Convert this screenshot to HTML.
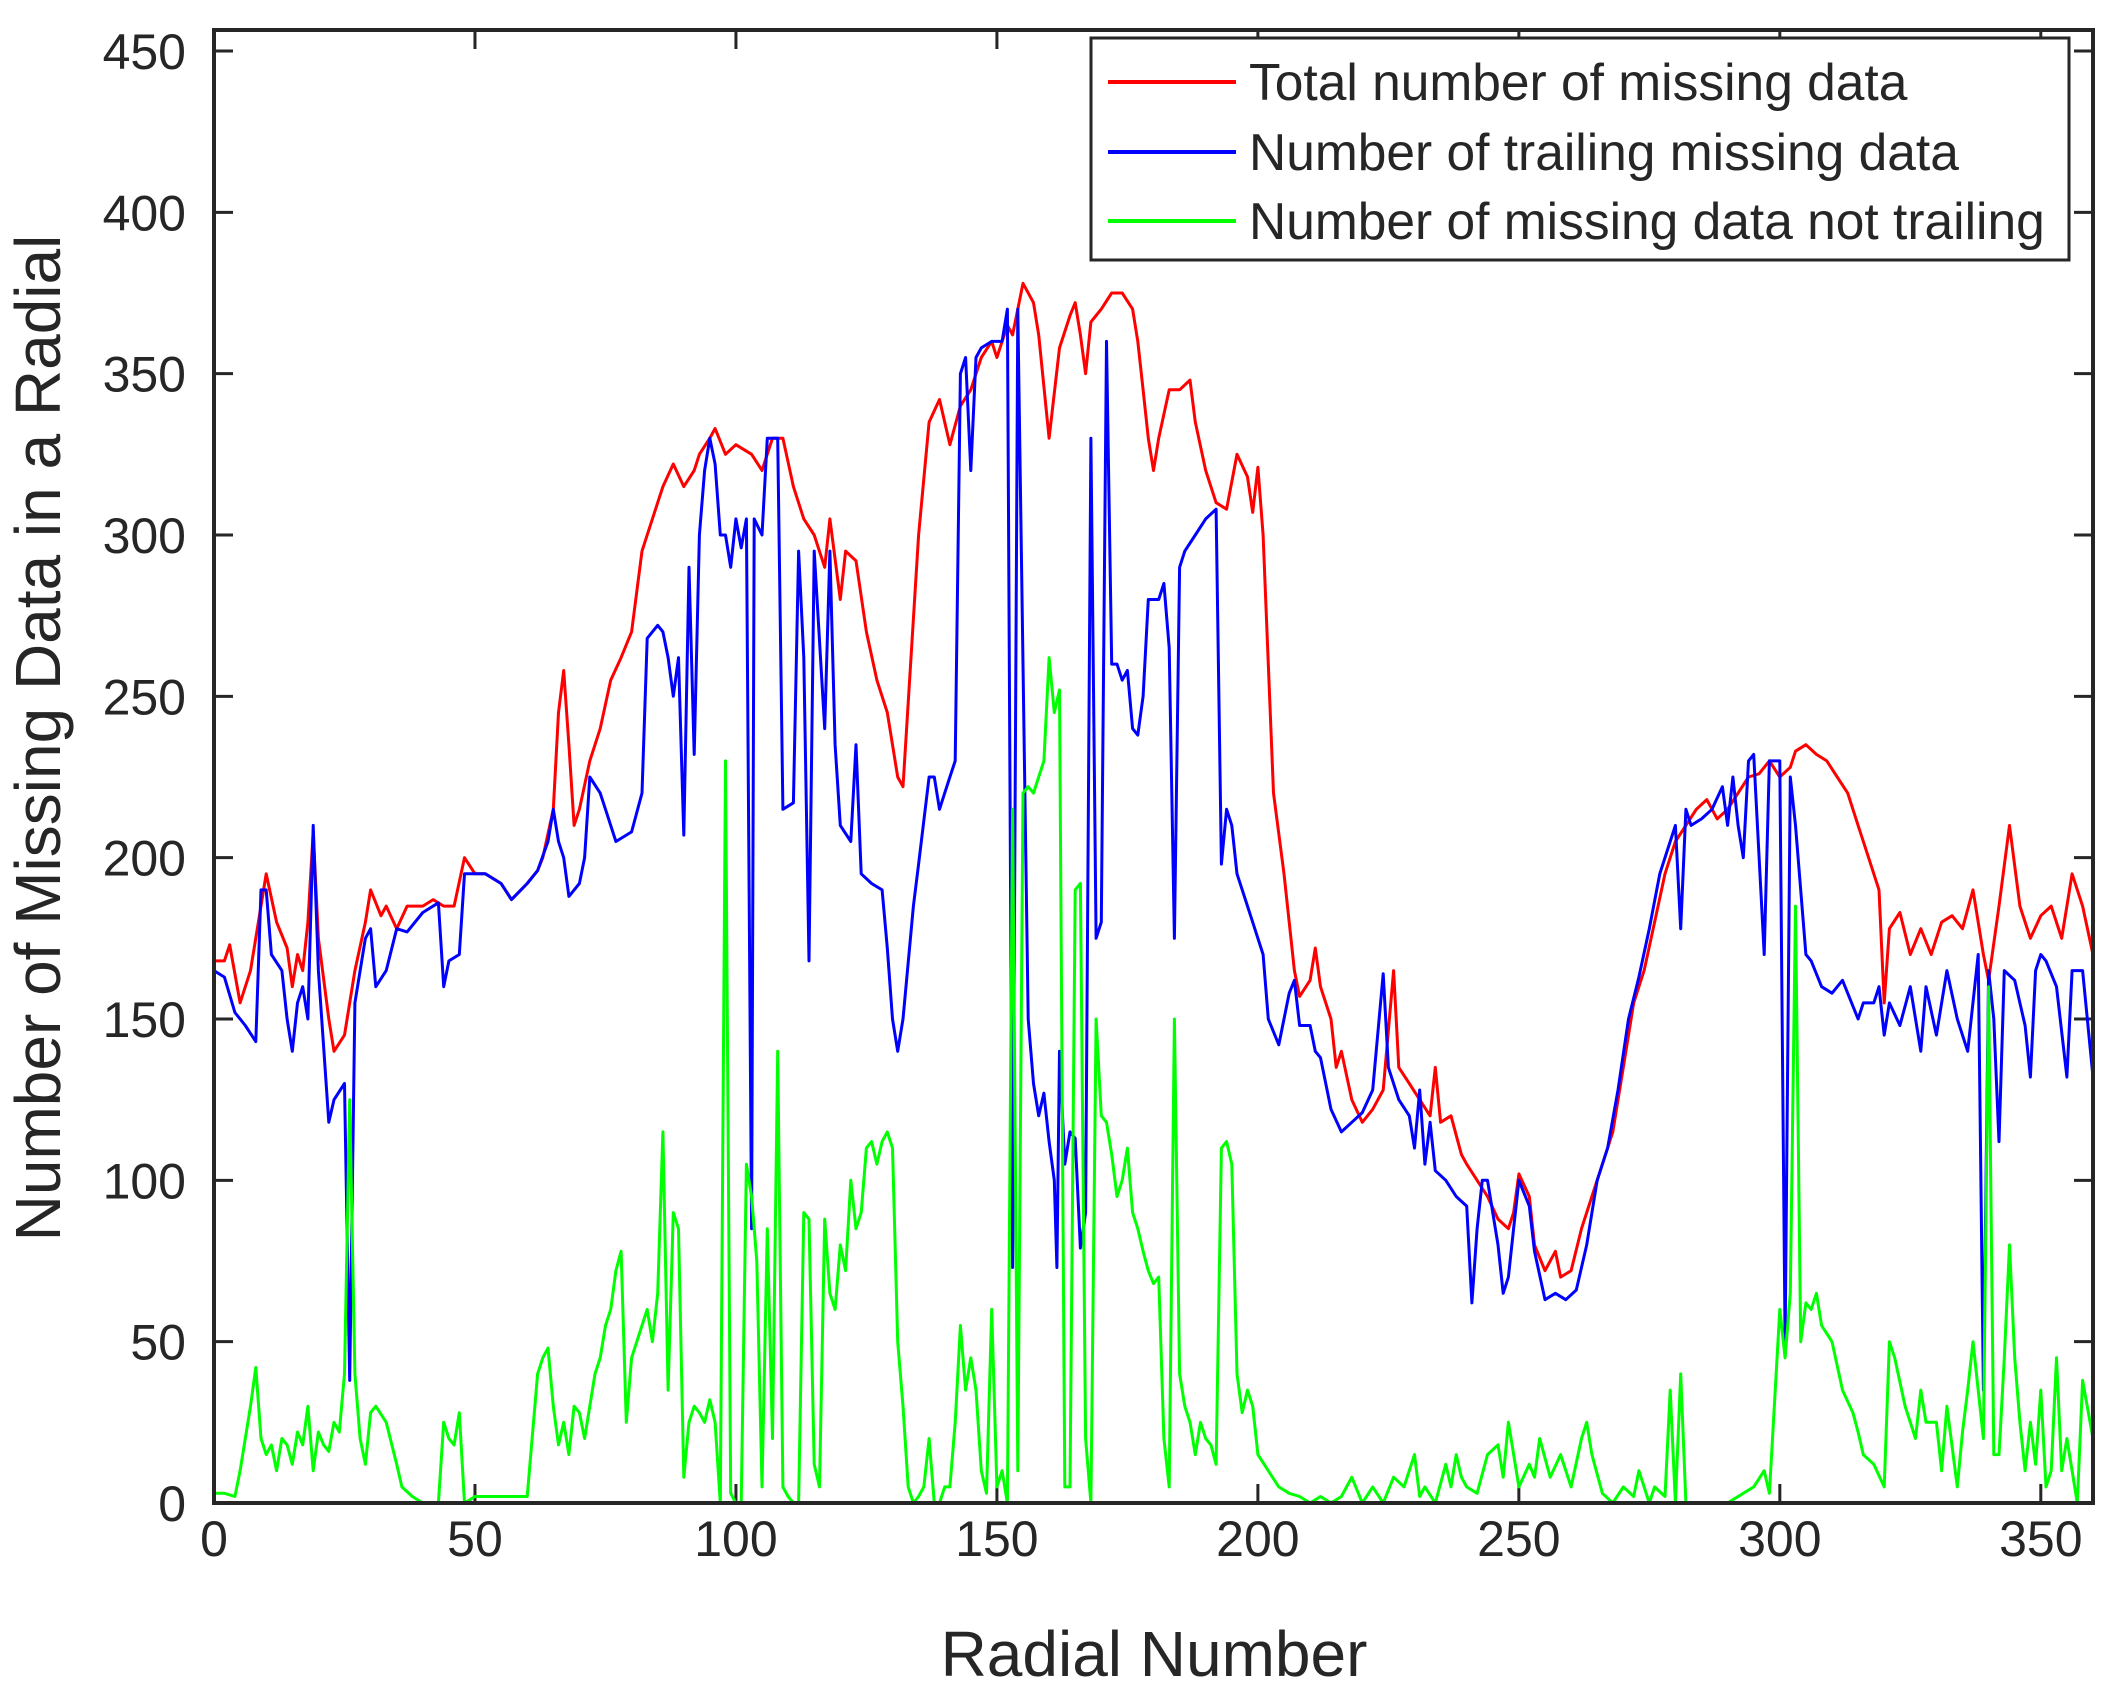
<!DOCTYPE html>
<html><head><meta charset="utf-8"><style>
html,body{margin:0;padding:0;background:#fff;}
svg{display:block;}
text{font-family:"Liberation Sans",Arial,sans-serif;fill:#262626;}
</style></head><body>
<svg id="s" width="2111" height="1692" viewBox="0 0 2111 1692" xmlns="http://www.w3.org/2000/svg">
<rect x="0" y="0" width="2111" height="1692" fill="#fff"/>
<g id="ticks" stroke="#262626" stroke-width="3"></g>
<g id="lines" fill="none" stroke-width="3" stroke-linejoin="round"></g>
<rect x="214" y="30" width="1879" height="1473" fill="none" stroke="#262626" stroke-width="4"/>
<g id="labels" font-size="50"></g>
<text x="1154" y="1676" font-size="64" text-anchor="middle">Radial Number</text>
<text transform="translate(60,738) rotate(-90)" font-size="64" text-anchor="middle">Number of Missing Data in a Radial</text>
<rect x="1091" y="38" width="978" height="222" fill="#fff" stroke="#262626" stroke-width="3"/>
<line x1="1108" y1="82" x2="1236" y2="82" stroke="#ff0000" stroke-width="4"/>
<line x1="1108" y1="152" x2="1236" y2="152" stroke="#0000ff" stroke-width="4"/>
<line x1="1108" y1="221" x2="1236" y2="221" stroke="#00ff00" stroke-width="4"/>
<text x="1249" y="100" font-size="51.5">Total number of missing data</text>
<text x="1249" y="170" font-size="51.5">Number of trailing missing data</text>
<text x="1249" y="239" font-size="51.5">Number of missing data not trailing</text>
</svg>
<script>
var X=function(x){return 214+x*1879/360;},Y=function(y){return 1503-y*1452/450;};
var NS="http://www.w3.org/2000/svg";
function parse(s){return s.trim().split(/\s*,\s*/).map(function(p){var a=p.split(':');return [+a[0],+a[1]];});}
var red=parse("0:168,2:168,3:173,5:155,7:165,9:185,10:195,12:180,14:172,15:160,16:170,17:165,18:180,19:208,20:175,22:150,23:140,25:145,27:165,29:180,30:190,32:182,33:185,35:178,37:185,40:185,42:187,44:185,46:185,48:200,50:195,52:195,55:192,57:187,60:192,62:196,63:200,65:215,66:245,67:258,68:235,69:210,70:215,72:230,74:240,76:255,78:262,80:270,82:295,84:305,86:315,88:322,90:315,92:320,93:325,95:330,96:333,98:325,100:328,103:325,105:320,107:330,109:330,111:315,113:305,115:300,117:290,118:305,120:280,121:295,123:292,125:270,127:255,129:245,131:225,132:222,133:248,135:300,137:335,139:342,141:328,143:340,145:345,147:355,149:360,150:355,152:365,153:362,155:378,157:372,158:362,159:346,160:330,162:358,164:368,165:372,166:362,167:350,168:366,170:370,172:375,174:375,176:370,177:360,178:345,179:330,180:320,181:330,183:345,185:345,187:348,188:335,190:320,192:310,194:308,196:325,198:318,199:307,200:321,201:300,202:260,203:220,205:195,206:180,207:165,208:157,210:162,211:172,212:160,214:150,215:135,216:140,218:125,220:118,222:122,224:128,226:165,227:135,229:130,231:125,233:120,234:135,235:118,237:120,239:108,240:105,242:100,244:95,246:88,248:85,249:90,250:102,252:95,253:80,255:72,257:78,258:70,260:72,262:85,264:95,266:105,268:115,270:135,272:155,274:165,276:180,278:195,280:205,282:210,284:215,286:218,288:212,290:215,292:220,294:225,296:226,298:230,300:225,302:228,303:233,305:235,307:232,309:230,311:225,313:220,315:210,317:200,319:190,320:155,321:178,323:183,325:170,327:178,329:170,331:180,333:182,335:178,337:190,339:170,340:162,342:185,344:210,346:185,348:175,350:182,352:185,354:175,356:195,358:185,360:170");
var blue=parse("0:165,2:163,4:152,6:148,8:143,9:190,10:190,11:170,13:165,14:150,15:140,16:155,17:160,18:150,19:210,20:165,22:118,23:125,25:130,26:38,27:155,29:175,30:178,31:160,33:165,35:178,37:177,40:183,43:186,44:160,45:168,47:170,48:195,50:195,52:195,55:192,57:187,60:192,62:196,64:205,65:215,66:205,67:200,68:188,70:192,71:200,72:225,74:220,75:215,77:205,80:208,82:220,83:268,85:272,86:270,87:262,88:250,89:262,90:207,91:290,92:232,93:300,94:320,95:330,96:322,97:300,98:300,99:290,100:305,101:296,102:305,103:85,103.5:305,105:300,106:330,108:330,109:215,111:217,112:295,113:262,114:168,115:295,117:240,118:295,119:235,120:210,122:205,123:235,124:195,126:192,128:190,129:172,130:150,131:140,132:150,134:185,135:198,137:225,138:225,139:215,140:220,141:225,142:230,143:350,144:355,145:320,146:355,147:358,149:360,151:360,152:370,153:73,154:370,155:260,156:150,157:130,158:120,159:127,160:112,161:100,161.5:73,162:140,163:105,164:115,165:113,166:79,167:90,168:330,169:175,170:180,171:360,172:260,173:260,174:255,175:258,176:240,177:238,178:250,179:280,181:280,182:285,183:265,184:175,185:290,186:295,188:300,190:305,192:308,193:198,194:215,195:210,196:195,198:185,199:180,201:170,202:150,204:142,206:158,207:162,208:148,210:148,211:140,212:138,214:122,216:115,218:118,220:121,222:128,224:164,225:135,227:125,229:120,230:110,231:128,232:105,233:118,234:103,236:100,238:95,240:92,241:62,242:85,243:100,244:100,246:80,247:65,248:70,249:85,250:100,252:92,253:78,255:63,257:65,259:63,261:66,263:80,265:100,267:110,269:128,271:150,273:163,275:178,277:195,279:205,280:210,281:178,282:215,283:210,285:212,287:215,289:222,290:210,291:225,292:210,293:200,294:230,295:232,297:170,298:230,300:230,301:50,302:225,303:210,305:170,306:168,308:160,310:158,312:162,315:150,316:155,318:155,319:160,320:145,321:155,323:148,325:160,327:140,328:160,330:145,332:165,334:150,336:140,338:170,339:35,340:165,341:150,342:112,343:165,345:162,347:148,348:132,349:165,350:170,351:168,353:160,355:132,356:165,358:165,360:132");
var green=parse("0:3,2:3,4:2,5:10,6:20,7:30,8:42,9:20,10:15,11:18,12:10,13:20,14:18,15:12,16:22,17:18,18:30,19:10,20:22,21:18,22:16,23:25,24:22,25:40,26:125,27:40,28:20,29:12,30:28,31:30,33:25,35:12,36:5,38:2,40:0,43:0,44:25,45:20,46:18,47:28,48:0,50:2,55:2,60:2,62:40,63:45,64:48,65:30,66:18,67:25,68:15,69:30,70:28,71:20,72:30,73:40,74:45,75:55,76:60,77:72,78:78,79:25,80:45,81:50,82:55,83:60,84:50,85:65,86:115,87:35,88:90,89:85,90:8,91:25,92:30,93:28,94:25,95:32,96:25,97:0,98:230,99:3,100:0,101:0,102:105,103:95,104:75,105:5,106:85,107:20,108:140,109:5,110:2,111:0,112:0,113:90,114:88,115:12,116:5,117:88,118:65,119:60,120:80,121:72,122:100,123:85,124:90,125:110,126:112,127:105,128:112,129:115,130:110,131:50,132:30,133:5,134:0,135:2,136:5,137:20,138:0,139:0,140:5,141:5,142:25,143:55,144:35,145:45,146:35,147:10,148:3,149:60,150:5,151:10,152:0,153:215,154:10,155:220,156:222,157:220,158:225,159:230,160:262,161:245,162:252,163:5,164:5,165:190,166:192,167:20,168:0,169:150,170:120,171:118,172:108,173:95,174:100,175:110,176:90,177:85,178:78,179:72,180:68,181:70,182:20,183:5,184:150,185:40,186:30,187:25,188:15,189:25,190:20,191:18,192:12,193:110,194:112,195:105,196:40,197:28,198:35,199:30,200:15,202:10,204:5,206:3,208:2,210:0,212:2,214:0,216:2,218:8,220:0,222:5,224:0,226:8,228:5,230:15,231:2,232:5,234:0,236:12,237:5,238:15,239:8,240:5,242:3,244:15,246:18,247:8,248:25,250:5,252:12,253:8,254:20,256:8,258:15,260:5,262:20,263:25,264:15,266:3,268:0,270:5,272:2,273:10,275:0,276:5,278:2,279:35,280:0,281:40,282:0,284:0,290:0,295:5,297:10,298:3,300:60,301:45,302:65,303:185,304:50,305:62,306:60,307:65,308:55,310:50,312:35,314:28,315:22,316:15,318:12,320:5,321:50,322:45,324:30,326:20,327:35,328:25,330:25,331:10,332:30,334:5,335:22,336:35,337:50,338:35,339:20,340:160,341:15,342:15,343:45,344:80,345:45,346:25,347:10,348:25,349:12,350:35,351:5,352:10,353:45,354:10,355:20,357:0,358:38,360:20");
var L=document.getElementById('lines');
[[red,'#ff0000'],[blue,'#0000ff'],[green,'#00ff00']].forEach(function(s){
 var p=document.createElementNS(NS,'polyline');
 p.setAttribute('points',s[0].map(function(q){return X(q[0]).toFixed(1)+','+Y(q[1]).toFixed(1);}).join(' '));
 p.setAttribute('stroke',s[1]);L.appendChild(p);});
var T=document.getElementById('ticks'),G=document.getElementById('labels');
function ln(a,b,c,d){var l=document.createElementNS(NS,'line');l.setAttribute('x1',a);l.setAttribute('y1',b);l.setAttribute('x2',c);l.setAttribute('y2',d);T.appendChild(l);}
function tx(x,y,s,anc){var t=document.createElementNS(NS,'text');t.setAttribute('x',x);t.setAttribute('y',y);t.setAttribute('text-anchor',anc);t.textContent=s;G.appendChild(t);}
for(var v=0;v<=350;v+=50){var x=X(v);ln(x,1503,x,1484);ln(x,30,x,49);tx(x,1556,''+v,'middle');}
for(var v=0;v<=450;v+=50){var y=Y(v);ln(214,y,233,y);ln(2093,y,2074,y);tx(186,y+18,''+v,'end');}
</script>
</body></html>
